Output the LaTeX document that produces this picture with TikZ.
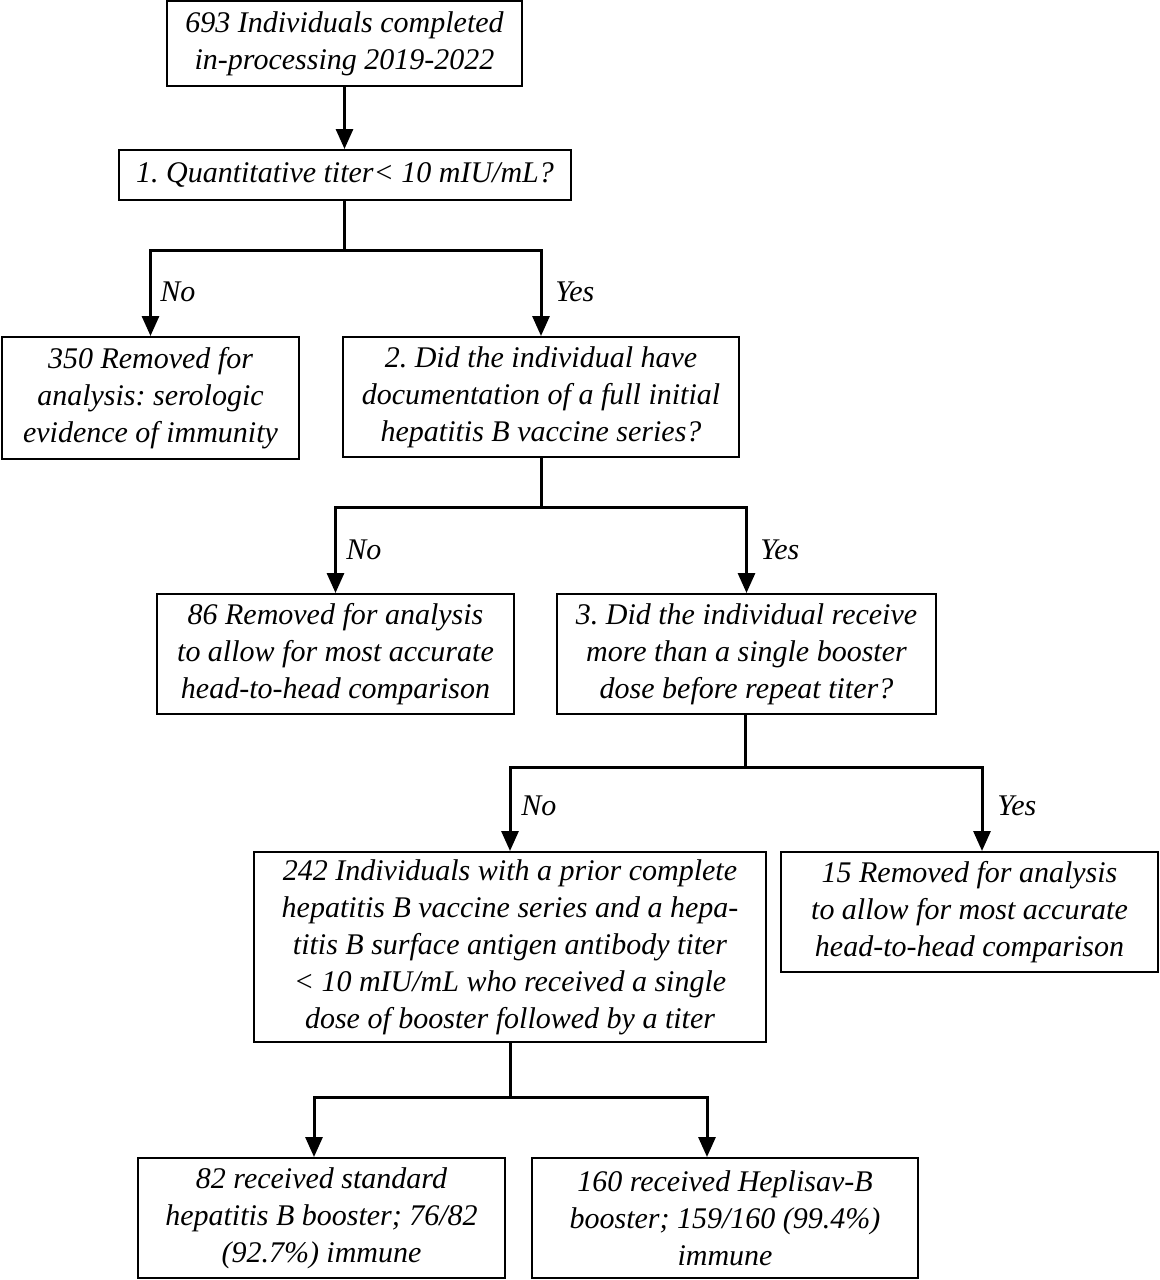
\documentclass[tikz,border=0pt]{standalone}
\usepackage{fontspec}
\setmainfont{Liberation Serif}
\usetikzlibrary{arrows.meta,calc}
\frenchspacing
\begin{document}
\begin{tikzpicture}[x=0.5pt,y=-0.5pt,
  box/.style={draw,line width=1pt,align=center,inner sep=0pt,font=\fontsize{15}{18.5}\selectfont\itshape},
  conn/.style={line width=1.5pt},
  arr/.style={conn,-{Triangle[length=10pt,width=8.5pt]}},
  lab/.style={font=\fontsize{15}{18.5}\selectfont\itshape,inner sep=0pt,anchor=west}]
\useasboundingbox[fill=white] (0,0) rectangle (1160,1280);

\node[box,minimum width=177.5pt,minimum height=42.5pt] (b1) at (344.5,43.5) {693 Individuals completed\\in-processing 2019-2022};
\node[box,minimum width=226pt,minimum height=25pt] (b2) at (345,175) {1. Quantitative titer< 10 mIU/mL?};
\node[box,minimum width=148.5pt,minimum height=61pt] (b3) at (150.5,398) {350 Removed for\\analysis: serologic\\evidence of immunity};
\node[box,minimum width=198pt,minimum height=60pt] (b4) at (541,397) {2. Did the individual have\\documentation of a full initial\\hepatitis B vaccine series?};
\node[box,minimum width=178.5pt,minimum height=60pt] (b5) at (335.5,654) {86 Removed for analysis\\to allow for most accurate\\head-to-head comparison};
\node[box,minimum width=189.5pt,minimum height=60pt] (b6) at (746.5,654) {3. Did the individual receive\\more than a single booster\\dose before repeat titer?};
\node[box,minimum width=256pt,minimum height=95pt] (b7) at (510,947) {242 Individuals with a prior complete\\hepatitis B vaccine series and a hepa-\\titis B surface antigen antibody titer\\< 10 mIU/mL who received a single\\dose of booster followed by a titer};
\node[box,minimum width=188.5pt,minimum height=60pt] (b8) at (969.5,912) {15 Removed for analysis\\to allow for most accurate\\head-to-head comparison};
\node[box,minimum width=183.5pt,minimum height=60pt] (b9) at (321.5,1218) {82 received standard\\hepatitis B booster; 76/82\\(92.7\%) immune};
\node[box,minimum width=193pt,minimum height=60pt] (b10) at (725,1218) {160 received Heplisav-B\\booster; 159/160 (99.4\%)\\immune};

\coordinate (j1) at (344,250);
\coordinate (j2) at (541,507);
\coordinate (j3) at (745,767);
\coordinate (j4) at (510,1097);

\draw[arr] (b1.south) -- (b1.south |- b2.north);
\draw[conn] (b2.south -| j1) -- (j1);
\draw[arr] (j1) -| (b3.north);
\draw[arr] (j1) -| (b4.north);
\draw[conn] (b4.south) -- (j2);
\draw[arr] (j2) -| (b5.north);
\draw[arr] (j2) -| (b6.north);
\draw[conn] (b6.south -| j3) -- (j3);
\draw[arr] (j3) -| (b7.north);
\draw[arr] (j3) -| ($(b8.north)+(12.5,0)$);
\draw[conn] (b7.south) -- (j4);
\draw[arr] (j4) -| ($(b9.north)+(-7.5,0)$);
\draw[arr] (j4) -| ($(b10.north)+(-18,0)$);

\node[lab] (n1) at (160,292) {No};
\node[lab] (y1) at (555,292) {Yes};
\node[lab] (n2) at (346,550) {No};
\node[lab] (y2) at (760,550) {Yes};
\node[lab] (n3) at (521,806) {No};
\node[lab] (y3) at (997,806) {Yes};
\end{tikzpicture}
\end{document}
